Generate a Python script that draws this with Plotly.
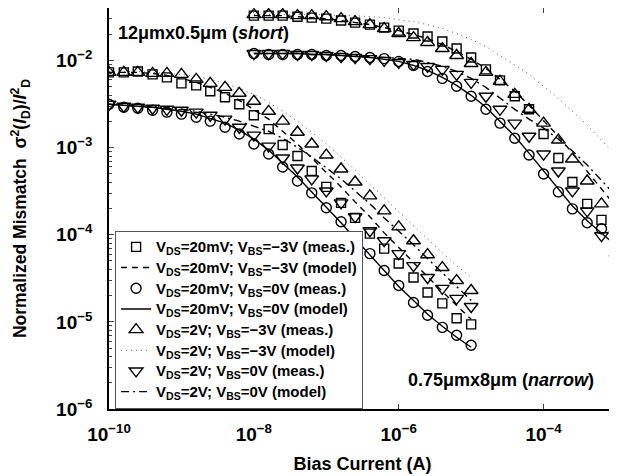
import plotly.graph_objects as go

# Bias currents (A) for the two devices
I_short = [1.0e-10, 1.6e-10, 2.5e-10, 4.0e-10, 6.3e-10, 1.0e-9, 1.6e-9, 2.5e-9, 4.0e-9, 6.3e-9,
           1.0e-8, 1.6e-8, 2.5e-8, 4.0e-8, 6.3e-8, 1.0e-7, 1.6e-7, 2.5e-7, 4.0e-7, 6.3e-7,
           1.0e-6, 1.6e-6, 2.5e-6, 4.0e-6, 6.3e-6, 1.0e-5]
I_narrow = [1.0e-8, 1.6e-8, 2.5e-8, 4.0e-8, 6.3e-8, 1.0e-7, 1.6e-7, 2.5e-7, 4.0e-7, 6.3e-7,
            1.0e-6, 1.6e-6, 2.5e-6, 4.0e-6, 6.3e-6, 1.0e-5, 1.6e-5, 2.5e-5, 4.0e-5, 6.3e-5,
            1.0e-4, 1.6e-4, 2.5e-4, 4.0e-4, 6.3e-4, 1.0e-3]

# --- left group (starts at 1e-10 A) ---
sq_A = [7.29e-3, 7.29e-3, 7.48e-3, 6.92e-3, 6.39e-3, 5.46e-3, 5.18e-3, 4.43e-3, 3.78e-3, 3.14e-3,
        2.35e-3, 1.63e-3, 1.07e-3, 8.0e-4, 5.39e-4, 3.54e-4, 2.32e-4, 1.56e-4, 1.03e-4, 6.92e-5,
        4.67e-5, 3.23e-5, 2.17e-5, 1.63e-5, 1.10e-5, 9.36e-6]
dash_A = [7.29e-3, 7.29e-3, 7.29e-3, 7.10e-3, 6.74e-3, 6.23e-3, 5.61e-3, 4.91e-3, 4.20e-3, 3.49e-3,
          2.75e-3, 2.12e-3, 1.54e-3, 1.10e-3, 7.59e-4, 5.25e-4, 3.54e-4, 2.38e-4, 1.61e-4, 1.05e-4,
          7.10e-5, 4.79e-5, 3.23e-5, 2.23e-5, 1.54e-5, 1.07e-5]
ci_A = [3.14e-3, 2.90e-3, 2.83e-3, 2.68e-3, 2.55e-3, 2.42e-3, 2.23e-3, 2.01e-3, 1.71e-3, 1.43e-3,
        1.10e-3, 8.43e-4, 5.98e-4, 4.14e-4, 3.02e-4, 2.04e-4, 1.41e-4, 9.24e-5, 6.07e-5, 3.88e-5,
        2.61e-5, 1.67e-5, 1.19e-5, 8.65e-6, 7.01e-6, 5.39e-6]
solid_A = [3.14e-3, 3.06e-3, 2.98e-3, 2.90e-3, 2.75e-3, 2.61e-3, 2.42e-3, 2.17e-3, 1.91e-3, 1.585e-3,
           1.25e-3, 9.36e-4, 6.65e-4, 4.60e-4, 3.10e-4, 2.09e-4, 1.37e-4, 9.0e-5, 5.90e-5, 3.88e-5,
           2.55e-5, 1.76e-5, 1.22e-5, 8.89e-6, 6.65e-6, 5.11e-6]
tu_A = [7.29e-3, 7.29e-3, 7.29e-3, 7.10e-3, 7.10e-3, 6.92e-3, 6.07e-3, 5.46e-3, 4.91e-3, 4.20e-3,
        3.40e-3, 2.61e-3, 2.01e-3, 1.50e-3, 1.10e-3, 8.21e-4, 5.68e-4, 4.03e-4, 2.79e-4, 1.88e-4,
        1.23e-4, 8.54e-5, 5.90e-5, 4.20e-5, 2.98e-5, 2.29e-5]
dot_A = [7.48e-3, 7.48e-3, 7.48e-3, 7.29e-3, 7.10e-3, 6.92e-3, 6.56e-3, 6.07e-3, 5.46e-3, 4.79e-3,
         4.08e-3, 3.31e-3, 2.61e-3, 2.01e-3, 1.50e-3, 1.10e-3, 7.79e-4, 5.53e-4, 3.83e-4, 2.65e-4,
         1.83e-4, 1.27e-4, 8.77e-5, 6.23e-5, 4.42e-5, 3.23e-5]
td_A = [3.14e-3, 2.98e-3, 2.90e-3, 2.83e-3, 2.75e-3, 2.68e-3, 2.55e-3, 2.35e-3, 2.12e-3, 1.71e-3,
        1.39e-3, 1.04e-3, 7.59e-4, 5.83e-4, 4.37e-4, 3.18e-4, 2.32e-4, 1.61e-4, 1.11e-4, 8.54e-5,
        6.07e-5, 4.42e-5, 3.23e-5, 2.42e-5, 1.86e-5, 1.50e-5]
dd_A = [3.14e-3, 3.06e-3, 2.98e-3, 2.90e-3, 2.83e-3, 2.75e-3, 2.61e-3, 2.42e-3, 2.23e-3, 2.01e-3,
        1.76e-3, 1.54e-3, 1.28e-3, 1.01e-3, 7.79e-4, 5.83e-4, 4.37e-4, 3.18e-4, 2.26e-4, 1.56e-4,
        1.11e-4, 7.69e-5, 5.32e-5, 3.68e-5, 2.55e-5, 1.76e-5]

# --- upper group (starts at 1e-8 A) ---
sq_B = [3.27e-2, 3.27e-2, 3.27e-2, 3.18e-2, 3.10e-2, 3.02e-2, 2.87e-2, 2.72e-2, 2.58e-2, 2.38e-2,
        2.20e-2, 2.04e-2, 1.88e-2, 1.65e-2, 1.37e-2, 1.08e-2, 7.89e-3, 5.90e-3, 3.88e-3, 2.75e-3,
        1.43e-3, 7.59e-4, 4.03e-4, 2.26e-4, 1.48e-4, 1.05e-4]
dash_B = [3.27e-2, 3.27e-2, 3.27e-2, 3.18e-2, 3.10e-2, 3.02e-2, 2.87e-2, 2.72e-2, 2.58e-2, 2.38e-2,
          2.20e-2, 1.98e-2, 1.78e-2, 1.52e-2, 1.27e-2, 1.03e-2, 8.11e-3, 6.07e-3, 4.43e-3, 3.06e-3,
          2.06e-3, 1.35e-3, 8.65e-4, 5.39e-4, 3.36e-4, 2.09e-4]
ci_B = [1.20e-2, 1.17e-2, 1.17e-2, 1.17e-2, 1.17e-2, 1.14e-2, 1.14e-2, 1.11e-2, 1.08e-2, 1.05e-2,
        9.75e-3, 8.77e-3, 7.48e-3, 6.23e-3, 5.05e-3, 3.88e-3, 2.75e-3, 1.91e-3, 1.28e-3, 8.21e-4,
        4.98e-4, 3.10e-4, 1.98e-4, 1.37e-4, 1.17e-4, 8.54e-5]
solid_B = [1.20e-2, 1.20e-2, 1.20e-2, 1.20e-2, 1.17e-2, 1.17e-2, 1.14e-2, 1.11e-2, 1.08e-2, 1.03e-2,
           9.75e-3, 8.77e-3, 7.69e-3, 6.39e-3, 5.18e-3, 3.98e-3, 2.90e-3, 2.01e-3, 1.35e-3, 8.65e-4,
           5.39e-4, 3.36e-4, 2.14e-4, 1.445e-4, 1.03e-4, 7.48e-5]
tu_B = [3.36e-2, 3.36e-2, 3.36e-2, 3.27e-2, 3.27e-2, 3.18e-2, 3.02e-2, 2.79e-2, 2.58e-2, 2.32e-2,
        2.04e-2, 1.83e-2, 1.61e-2, 1.37e-2, 1.14e-2, 9.24e-3, 7.29e-3, 5.75e-3, 4.08e-3, 2.75e-3,
        1.91e-3, 1.22e-3, 7.39e-4, 4.14e-4, 2.26e-4, 1.17e-4]
dot_B = [3.36e-2, 3.36e-2, 3.36e-2, 3.36e-2, 3.36e-2, 3.36e-2, 3.27e-2, 3.27e-2, 3.18e-2, 3.10e-2,
         2.94e-2, 2.79e-2, 2.58e-2, 2.32e-2, 2.04e-2, 1.74e-2, 1.445e-2, 1.14e-2, 9.0e-3, 6.92e-3,
         5.05e-3, 3.68e-3, 2.61e-3, 1.81e-3, 1.22e-3, 8.0e-4]
td_B = [1.20e-2, 1.20e-2, 1.20e-2, 1.17e-2, 1.17e-2, 1.14e-2, 1.11e-2, 1.08e-2, 1.05e-2, 1.00e-2,
        9.49e-3, 9.0e-3, 8.54e-3, 7.89e-3, 6.92e-3, 5.61e-3, 3.88e-3, 2.75e-3, 1.91e-3, 1.35e-3,
        8.43e-4, 5.39e-4, 3.18e-4, 1.88e-4, 9.75e-5, 5.32e-5]
dd_B = [1.20e-2, 1.20e-2, 1.20e-2, 1.20e-2, 1.17e-2, 1.17e-2, 1.14e-2, 1.14e-2, 1.11e-2, 1.08e-2,
        1.05e-2, 1.03e-2, 9.49e-3, 8.54e-3, 7.48e-3, 6.23e-3, 4.91e-3, 3.68e-3, 2.75e-3, 2.12e-3,
        1.67e-3, 1.25e-3, 9.12e-4, 6.31e-4, 4.25e-4, 2.79e-4]

names = [
    "V<sub>DS</sub>=20mV; V<sub>BS</sub>=\u22123V (meas.)",
    "V<sub>DS</sub>=20mV; V<sub>BS</sub>=\u22123V (model)",
    "V<sub>DS</sub>=20mV; V<sub>BS</sub>=0V (meas.)",
    "V<sub>DS</sub>=20mV; V<sub>BS</sub>=0V (model)",
    "V<sub>DS</sub>=2V; V<sub>BS</sub>=\u22123V (meas.)",
    "V<sub>DS</sub>=2V; V<sub>BS</sub>=\u22123V (model)",
    "V<sub>DS</sub>=2V; V<sub>BS</sub>=0V (meas.)",
    "V<sub>DS</sub>=2V; V<sub>BS</sub>=0V (model)",
]

x_all = I_short + [None] + I_narrow

def join(a, b):
    return a + [None] + b

def big(label):
    return '<span style="font-size:15px">' + label + '</span>'

fig = go.Figure()

model_styles = [
    (dash_A, dash_B, dict(color="black", width=1.4, dash="6px,5px"), 1),
    (solid_A, solid_B, dict(color="black", width=1.4, dash="solid"), 3),
    (dot_A, dot_B, dict(color="#555555", width=1.0, dash="1px,4px"), 5),
    (dd_A, dd_B, dict(color="black", width=1.4, dash="8px,4px,2px,4px"), 7),
]
meas_styles = [
    (sq_A, sq_B, "square-open", 9, 0),
    (ci_A, ci_B, "circle-open", 10, 2),
    (tu_A, tu_B, "triangle-up-open", 12, 4),
    (td_A, td_B, "triangle-down-open", 12, 6),
]

traces = {}
for a, b, ln, idx in model_styles:
    traces[idx] = go.Scatter(x=x_all, y=join(a, b), mode="lines", line=ln,
                             name=big(names[idx]), connectgaps=False, legendrank=idx + 1)
for a, b, sym, sz, idx in meas_styles:
    traces[idx] = go.Scatter(x=x_all, y=join(a, b), mode="markers",
                             marker=dict(symbol=sym, size=sz, color="black",
                                         line=dict(color="black", width=1.4)),
                             name=big(names[idx]), legendrank=idx + 1)
for idx in [1, 3, 5, 7, 0, 2, 4, 6]:
    fig.add_trace(traces[idx])

FAM = "Liberation Sans, Arial, sans-serif"
tick_font = dict(family=FAM, size=19, color="black", weight="bold")
title_font = dict(family=FAM, size=18, color="black", weight="bold")
ytitle_font = dict(family=FAM, size=17.5, color="black", weight="bold")

x_tickvals = [1e-10, 1e-8, 1e-6, 1e-4]
x_ticktext = ["10<sup>\u221210</sup>", "10<sup>\u22128</sup>", "10<sup>\u22126</sup>", "10<sup>\u22124</sup>"]
y_tickvals = [1e-6, 1e-5, 1e-4, 1e-3, 1e-2]
y_ticktext = ["10<sup>\u22126</sup>", "10<sup>\u22125</sup>", "10<sup>\u22124</sup>", "10<sup>\u22123</sup>", "10<sup>\u22122</sup>"]
y_minor = [m * 10.0 ** e for e in range(-6, -1) for m in range(2, 10)]

# page body has an 8px margin: figure is sized to fit inside the 617x476 window
fig.update_layout(
    width=609, height=468,
    margin=dict(l=101, r=1, t=0, b=67),
    paper_bgcolor="white", plot_bgcolor="white",
    font=dict(family=FAM, size=16, color="black", weight="bold"),
    showlegend=True,
    legend=dict(x=0.012, y=0.445, xanchor="left", yanchor="top",
                bgcolor="white", bordercolor="#555555", borderwidth=1,
                font=dict(family=FAM, size=13.6, color="black", weight="bold"),
                tracegroupgap=0, itemwidth=30, traceorder="normal"),
    xaxis=dict(type="log", range=[-10, -3], tickmode="array", tickvals=x_tickvals,
               ticktext=x_ticktext, ticks="inside", ticklen=5, tickwidth=1.2,
               showline=True, linecolor="black", linewidth=1.6, mirror="ticks",
               showgrid=False, zeroline=False, automargin=False,
               tickfont=tick_font, ticklabelstandoff=7,
               title=dict(text="Bias Current (A)", font=title_font, standoff=14)),
    yaxis=dict(type="log", range=[-6, -1.398], tickmode="array", tickvals=y_tickvals,
               ticktext=y_ticktext, ticks="inside", ticklen=5, tickwidth=1.2,
               showline=True, linecolor="black", linewidth=1.6, mirror="ticks",
               showgrid=False, zeroline=False, automargin=False,
               minor=dict(tickmode="array", tickvals=y_minor, ticks="inside",
                          ticklen=3, tickwidth=1, showgrid=False),
               tickfont=tick_font, ticklabelstandoff=11,
               title=dict(text="Normalized Mismatch  \u03c3<sup>2</sup>(<i>I</i><sub>D</sub>)/<i>I</i><sup>2</sup><sub>D</sub>",
                          font=ytitle_font, standoff=32)),
    annotations=[
        dict(text="12\u03bcmx0.5\u03bcm (<i>short</i>)", xref="paper", yref="paper",
             x=0.014, y=0.938, xanchor="left", yanchor="middle", showarrow=False,
             font=dict(family=FAM, size=18, color="black", weight="bold")),
        dict(text="0.75\u03bcmx8\u03bcm (<i>narrow</i>)", xref="paper", yref="paper",
             x=0.961, y=0.072, xanchor="right", yanchor="middle", showarrow=False,
             font=dict(family=FAM, size=18, color="black", weight="bold")),
    ],
)

fig.write_html("out.html")
